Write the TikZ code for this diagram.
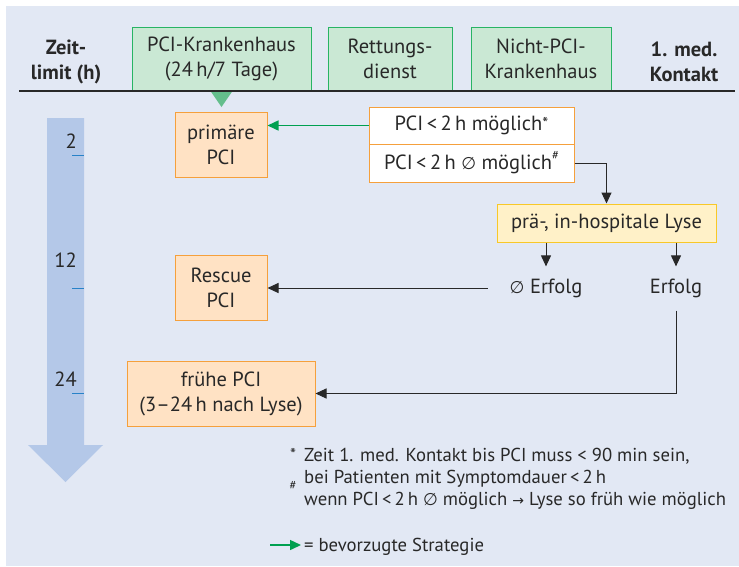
\documentclass[tikz,border=0pt]{standalone}
\usepackage{fontspec}
\setmainfont{PT Sans}
\newfontfamily\symfont{DejaVu Sans}
\usetikzlibrary{arrows.meta}
\definecolor{bgc}{RGB}{226,232,244}
\definecolor{gfill}{RGB}{202,232,212}
\definecolor{gline}{RGB}{40,180,100}
\definecolor{tri}{RGB}{100,190,140}
\definecolor{ofill}{RGB}{255,226,196}
\definecolor{oline}{RGB}{245,160,60}
\definecolor{yfill}{RGB}{255,241,200}
\definecolor{yline}{RGB}{248,200,40}
\definecolor{tarrow}{RGB}{180,200,232}
\definecolor{tick}{RGB}{40,130,200}
\definecolor{garrow}{RGB}{0,160,80}
\definecolor{dark}{RGB}{40,40,40}
\newcommand{\nix}{{\symfont\fontsize{17}{17}\selectfont ∅}}
\newcommand{\supstar}{\raisebox{0.05em}{\fontsize{17}{17}\selectfont *}}
\newcommand{\suphash}{\raisebox{0.5em}{\fontsize{12.5}{13}\selectfont\#}}
\tikzset{
  txt/.style={font=\fontsize{20.5}{25}\selectfont, text=dark, align=center},
  gbox/.style={txt, draw=gline, fill=gfill, line width=1pt, inner sep=0pt, minimum height=64pt},
  obox/.style={txt, draw=oline, fill=ofill, line width=1pt, inner sep=0pt, minimum height=65pt},
  wbox/.style={txt, draw=oline, fill=white, line width=1pt, inner sep=0pt, minimum width=205pt},
  ybox/.style={txt, draw=yline, fill=yfill, line width=1pt, inner sep=0pt, minimum width=219pt, minimum height=38pt},
  hdr/.style={txt, font=\fontsize{20.5}{25}\selectfont\bfseries},
  arr/.style={draw=dark, line width=1pt, -{Triangle[length=11pt,width=10pt]}},
  garr/.style={draw=garrow, line width=1.5pt, -{Triangle[length=11pt,width=10pt]}},
  foot/.style={font=\fontsize{18.7}{22}\selectfont, text=dark, inner sep=0pt},
  num/.style={font=\fontsize{20.5}{25}\selectfont, text=dark, inner sep=0pt, anchor=base east},
}
\begin{document}
\begin{tikzpicture}[x=1pt,y=-1pt]
\useasboundingbox (0,0) rectangle (739,566);
\fill[bgc] (6,6) rectangle (739,566);
% header
\node[hdr] (zeit) at (66,62) {Zeit-\\limit (h)};
\node[hdr] (kontakt) at (684,62) {1. med.\\Kontakt};
\node[gbox, minimum width=179pt] (pcik) at (221.5,59) {PCI-Krankenhaus\\(24\,h/7 Tage)};
\node[gbox, minimum width=124pt] (rett) at (390,59) {Rettungs-\\dienst};
\node[gbox, minimum width=140pt] (nicht) at (541,59) {Nicht-PCI-\\Krankenhaus};
\fill[tri] (210.5,91) -- (232.5,91) -- (221.5,107) -- cycle;
\draw[dark, line width=1.2pt] (19,91) -- (735,91);
% time arrow
\fill[tarrow] (47,118) -- (84,118) -- (84,445) -- (103,445) -- (65.5,482) -- (28,445) -- (47,445) -- cycle;
\draw[tick, line width=1pt] (72,155) -- (84,155) (72,288) -- (84,288) (72,393) -- (84,393);
\node[num] (t2) at (77,148) {2};
\node[num] (t12) at (77,267) {12};
\node[num] (t24) at (77,386) {24};
% boxes
\node[obox, minimum width=92pt] (prim) at (221,144.5) {primäre\\PCI};
\node[obox, minimum width=92pt] (resc) at (221,287.5) {Rescue\\PCI};
\node[obox, minimum width=188pt] (frueh) at (221,393.5) {frühe PCI\\(3–24\,h nach Lyse)};
\node[wbox, minimum height=37pt] (pa) at (471.5,125.5) {PCI\,<\,2\,h möglich\supstar};
\node[wbox, minimum height=38pt] (pb) at (471.5,163) {PCI\,<\,2\,h \nix\ möglich\suphash};
\node[ybox] (lyse) at (606.5,223) {prä-, in-hospitale Lyse};
\node[txt, inner sep=0pt] (nerf) at (546,288) {\nix\ Erfolg};
\node[txt, inner sep=0pt] (erf) at (676,288) {Erfolg};
% connectors
\draw[garr] (pa.west) -- (pa.west -| prim.east);
\draw[arr] (pb.east) -| (lyse.north);
\draw[arr] (lyse.south -| nerf.north) -- ([yshift=12pt]nerf.north);
\draw[arr] (lyse.south -| erf.north) -- ([yshift=12pt]erf.north);
\draw[arr] ([xshift=-22pt]nerf.west) -- (nerf.west -| resc.east);
\coordinate (ebot) at ([yshift=-13pt]erf.south);
\draw[arr] (ebot) |- (frueh.east);
% footnotes
\node[foot, anchor=base] (s1) at (293,461) {\supstar};
\node[foot, anchor=base west] (f1) at (304,461) {Zeit 1. med. Kontakt bis PCI muss < 90 min sein,};
\node[foot, anchor=base west] (f2) at (304,483) {bei Patienten mit Symptomdauer\,<\,2\,h};
\node[foot, anchor=base] (s2) at (293,499) {\suphash};
\node[foot, anchor=base west] (f3) at (304,505) {wenn PCI\,<\,2\,h \nix\ möglich {\symfont\fontsize{14}{14}\selectfont →} Lyse so früh wie möglich};
\coordinate (la) at (270,545);
\coordinate (lb) at (301,545);
\draw[garr] (la) -- (lb);
\node[foot, anchor=base west] (leg) at (304,551) {= bevorzugte Strategie};
\end{tikzpicture}
\end{document}
